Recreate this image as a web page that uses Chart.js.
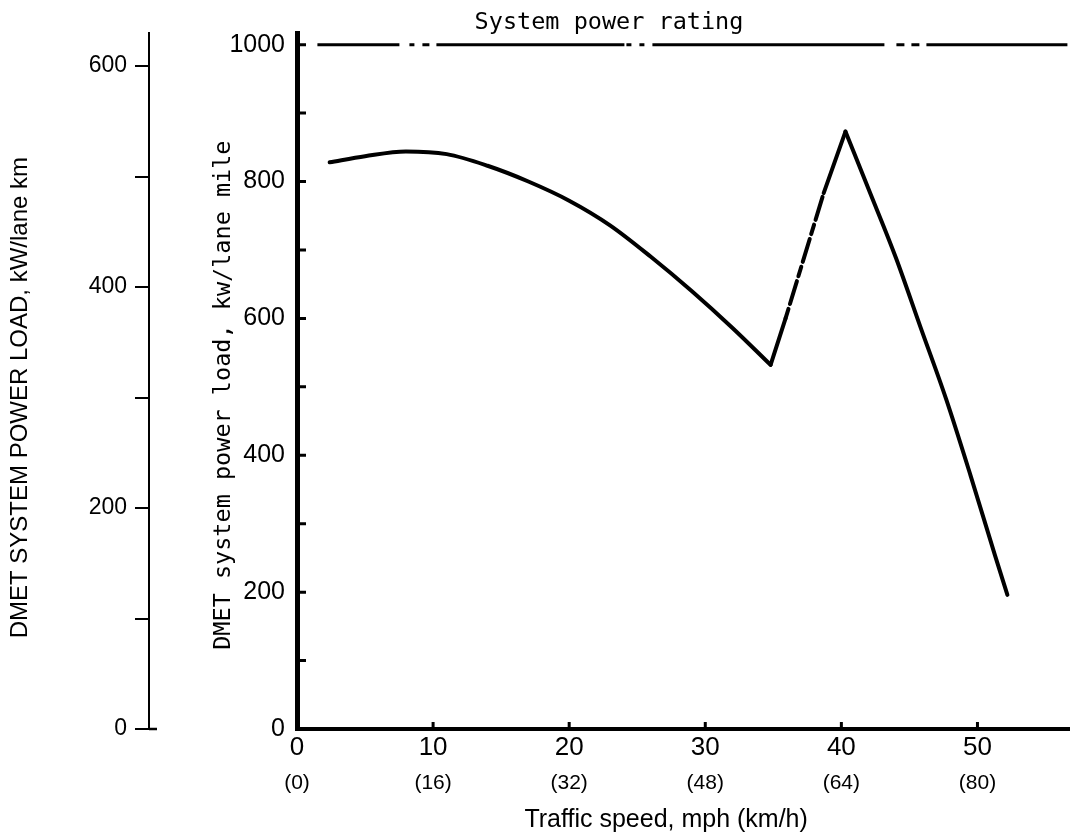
<!DOCTYPE html>
<html>
<head>
<meta charset="utf-8">
<script src="https://cdn.jsdelivr.net/npm/chart.js@4.4.1/dist/chart.umd.min.js"></script>
<style>
body { margin: 0; background: #fff; }
canvas { display: block; }
</style>
</head>
<body>
<canvas id="powerLoad" width="1070" height="837"></canvas>
<script>
// traffic speed (mph) and DMET power load (kW/lane mile)
// smooth falling part, up to the minimum
var curveSpeed = [2.4, 5, 8, 11, 14, 17, 20, 23, 26, 29, 32, 34.8];
var curveLoad = [828, 837, 844, 840, 823, 800, 772, 736, 690, 640, 586, 532];
// sharp rise to the peak
var riseSpeed = [34.8, 35.9, 38.7, 40.3];
var riseLoad = [532, 600, 783, 873];
// fall after the peak
var fallSpeed = [40.3, 42.1, 44.0, 45.8, 47.7, 49.5, 51.3, 52.2];
var fallLoad = [873, 784, 689, 588, 482, 370, 253, 196];

// system power rating line
var ratingSpeed = [1.5, 56.8];
var ratingLoad = [1000, 1000];

// tick labels
var mphTicks = [0, 10, 20, 30, 40, 50];
var kmhTicks = ['(0)', '(16)', '(32)', '(48)', '(64)', '(80)'];
var mileTicks = [0, 200, 400, 600, 800, 1000];
var kmTicks = [0, 100, 200, 300, 400, 500, 600];

// axis ranges
var speedMax = 56.8;
var mileMax = 1017;
var kmMax = 630;

// the part of the rise that is drawn dashed (mph)
var dashedFrom = 35.9;

var toPoints = function(xs, ys){
    var pts = [];
    for (var i = 0; i < xs.length; i++) {
        pts.push({x: xs[i], y: ys[i]});
    }
    return pts;
}

var setTicks = function(values){
    return function(s){
        s.ticks = values.map(function(v){ return {value: v}; });
    };
}

var tickMarks = {
    id: 'tickMarks',
    afterDraw: function(chart){
        var ctx = chart.ctx;
        var x = chart.scales.x, y = chart.scales.y, yKm = chart.scales.yKm;
        ctx.save();
        ctx.strokeStyle = '#000';
        ctx.lineWidth = 3;
        ctx.beginPath();
        for (var v = 100; v <= 1000; v += 100) {
            var py = y.getPixelForValue(v);
            ctx.moveTo(y.right, py);
            ctx.lineTo(y.right + 9, py);
        }
        for (var i = 1; i < mphTicks.length; i++) {
            var px = x.getPixelForValue(mphTicks[i]);
            ctx.moveTo(px, x.top);
            ctx.lineTo(px, x.top - 7);
        }
        ctx.stroke();
        // zero tick of the km scale runs through the axis
        ctx.lineWidth = 2.5;
        ctx.beginPath();
        var p0 = yKm.getPixelForValue(0);
        ctx.moveTo(yKm.right, p0);
        ctx.lineTo(yKm.right + 8, p0);
        ctx.stroke();

        ctx.fillStyle = '#000';
        ctx.font = '23.5px "DejaVu Sans Mono"';
        ctx.textAlign = 'center';
        ctx.textBaseline = 'middle';
        ctx.fillText('System power rating', 609, 23);
        ctx.restore();
    }
};

Chart.defaults.font.family = '"Liberation Sans", Arial, sans-serif';
Chart.defaults.color = '#000';

var curveLine = {
    borderColor: '#000',
    borderWidth: 4,
    borderJoinStyle: 'round',
    borderCapStyle: 'round',
    pointRadius: 0
};

const data = {
    datasets: [{
        label: 'System power rating',
        data: toPoints(ratingSpeed, ratingLoad),
        borderColor: '#000',
        borderWidth: 3,
        borderDash: [82, 10, 5, 8, 7, 7, 188, 2, 5, 8, 5, 8, 232, 12, 8, 7, 8, 7, 141],
        pointRadius: 0
    }, Object.assign({
        label: 'DMET system power load',
        data: toPoints(curveSpeed, curveLoad),
        cubicInterpolationMode: 'monotone'
    }, curveLine), Object.assign({
        label: 'rise',
        data: toPoints(riseSpeed, riseLoad),
        tension: 0,
        segment: {
            borderDash: function(c){ return c.p0.parsed.x === dashedFrom ? [10, 5, 24, 5] : undefined; }
        }
    }, curveLine), Object.assign({
        label: 'fall',
        data: toPoints(fallSpeed, fallLoad),
        cubicInterpolationMode: 'monotone'
    }, curveLine)]
};

const config = {
    type: 'line',
    data: data,
    options: {
        responsive: false,
        animation: false,
        layout: { padding: { top: 33, left: 0, right: 0, bottom: 0 } },
        plugins: {
            legend: { display: false },
            tooltip: { enabled: false }
        },
        scales: {
            x: {
                type: 'linear',
                position: 'bottom',
                weight: 0,
                min: 0,
                max: speedMax,
                afterBuildTicks: setTicks(mphTicks),
                afterFit: function(s){ s.height = 34; },
                border: { display: true, color: '#000', width: 4 },
                grid: { display: true, drawOnChartArea: false, drawTicks: false },
                ticks: {
                    padding: 3,
                    maxRotation: 0,
                    autoSkip: false,
                    font: { size: 26 },
                    callback: function(v){ return String(v); }
                }
            },
            x2: {
                type: 'linear',
                position: 'bottom',
                weight: 1,
                min: 0,
                max: speedMax,
                afterBuildTicks: setTicks(mphTicks),
                afterFit: function(s){ s.height = 74; },
                border: { display: false },
                grid: { display: false },
                ticks: {
                    padding: 0,
                    maxRotation: 0,
                    autoSkip: false,
                    font: { size: 21 },
                    callback: function(v){ return kmhTicks[mphTicks.indexOf(v)]; }
                },
                title: {
                    display: true,
                    text: 'Traffic speed, mph (km/h)     ',
                    font: { size: 25 },
                    padding: { top: 0, bottom: 2 }
                }
            },
            y: {
                type: 'linear',
                position: 'left',
                weight: 0,
                min: 0,
                max: mileMax,
                afterBuildTicks: setTicks(mileTicks),
                afterFit: function(s){ s.width = 148; },
                border: { display: true, color: '#000', width: 5 },
                grid: { display: true, drawOnChartArea: false, drawTicks: false },
                ticks: {
                    padding: 12,
                    autoSkip: false,
                    font: { size: 25 },
                    callback: function(v){ return String(v); }
                },
                title: {
                    display: true,
                    text: 'DMET system power load, kw/lane mile  ',
                    font: { family: '"DejaVu Sans Mono", monospace', size: 23.5 },
                    padding: { top: 61, bottom: 0 }
                }
            },
            yKm: {
                type: 'linear',
                position: 'left',
                weight: 1,
                min: 0,
                max: kmMax,
                afterBuildTicks: setTicks(kmTicks),
                afterFit: function(s){ s.width = 149; },
                border: { display: true, color: '#000', width: 2 },
                grid: { display: true, drawOnChartArea: false, drawTicks: true, tickLength: 14, color: '#000', lineWidth: 2 },
                ticks: {
                    padding: 8,
                    autoSkip: false,
                    font: { size: 23 },
                    callback: function(v){ return v % 200 === 0 ? String(v) : ''; }
                },
                title: {
                    display: true,
                    text: 'DMET SYSTEM POWER LOAD, kW/lane km     ',
                    font: { size: 24 },
                    padding: { top: 6, bottom: 0 }
                }
            }
        }
    },
    plugins: [tickMarks]
};

const myChart = new Chart(
    document.getElementById('powerLoad'),
    config
);
</script>
</body>
</html>
